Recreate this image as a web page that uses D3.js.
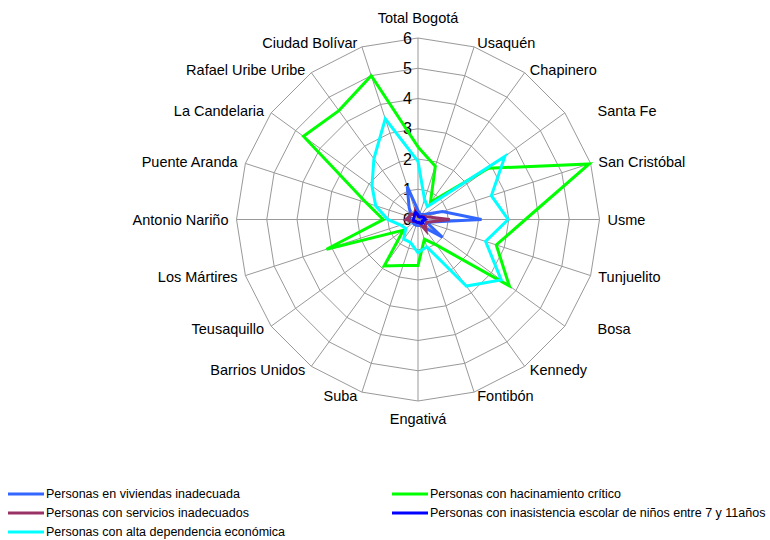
<!DOCTYPE html>
<html>
<head>
<meta charset="utf-8">
<script src="https://cdn.jsdelivr.net/npm/d3@7"></script>
<style>
  html, body { margin: 0; padding: 0; background: #fff; }
  svg { display: block; font-family: "Liberation Sans", Arial, sans-serif; }
</style>
</head>
<body>
<svg id="chart" width="770" height="540"></svg>
<script>
// Localidades de Bogotá, clockwise from the top spoke
const categories = [
  "Total Bogotá", "Usaquén", "Chapinero", "Santa Fe", "San Cristóbal",
  "Usme", "Tunjuelito", "Bosa", "Kennedy", "Fontibón",
  "Engativá", "Suba", "Barrios Unidos", "Teusaquillo", "Los Mártires",
  "Antonio Nariño", "Puente Aranda", "La Candelaria", "Rafael Uribe Uribe", "Ciudad Bolívar"
];

const viviendasInadecuadas = [0.3, 0.2, 0.2, 0.3, 0.85, 2.1, 0.3, 1.0, 0.3, 0.2, 0.2, 0.2, 0.2, 0.2, 0.2, 0.3, 0.3, 0.3, 0.5, 1.15];
const hacinamientoCritico  = [2.4, 1.85, 0.7, 2.88, 5.95, 3.55, 2.72, 3.73, 1.05, 0.68, 1.52, 1.6, 1.9, 0.6, 3.18, 1.15, 1.8, 4.68, 4.45, 5.0];
const serviciosInadecuados = [0.1, 0.1, 0.1, 0.2, 0.3, 1.05, 0.3, 0.3, 0.45, 0.1, 0.1, 0.1, 0.1, 0.1, 0.2, 0.4, 0.3, 0.3, 0.2, 0.3];
const inasistenciaEscolar  = [0.15, 0.1, 0.1, 0.15, 0.2, 0.25, 0.15, 0.2, 0.15, 0.1, 0.1, 0.1, 0.1, 0.1, 0.15, 0.15, 0.15, 0.15, 0.2, 0.25];
const altaDependencia      = [1.92, 0.7, 0.53, 3.55, 2.55, 2.98, 2.35, 3.4, 2.72, 0.95, 1.1, 0.8, 0.8, 0.5, 0.6, 1.0, 1.47, 1.88, 2.48, 3.5];

const tickValues = [0, 1, 2, 3, 4, 5, 6];

// drawing order; later series sit on top
const series = [
  { name: "Personas en viviendas inadecuada", values: viviendasInadecuadas, color: "#3366ff" },
  { name: "Personas con hacinamiento crítico", values: hacinamientoCritico, color: "#00ff00" },
  { name: "Personas con servicios inadecuados", values: serviciosInadecuados, color: "#993366" },
  { name: "Personas con inasistencia escolar de niños entre 7 y 11años", values: inasistenciaEscolar, color: "#0000ff" },
  { name: "Personas con alta dependencia económica", values: altaDependencia, color: "#00ffff" }
];

const svg = d3.select("#chart");
const cx = 418, cy = 219.5, R = 181.5;

const r = d3.scaleLinear().domain([0, 6]).range([0, R]);
const step = 2 * Math.PI / categories.length;
const ang = (i) => i * step;
const px = (i, v) => cx + r(v) * Math.sin(ang(i));
const py = (i, v) => cy - r(v) * Math.cos(ang(i));

const g = svg.append("g");

// polygonal grid rings
tickValues.filter(t => t > 0).forEach(t => {
  g.append("path")
    .attr("d", d3.line()(categories.map((c, i) => [px(i, t), py(i, t)])) + "Z")
    .attr("fill", "none")
    .attr("stroke", "#999")
    .attr("stroke-width", 1);
});

// spokes
categories.forEach((c, i) => {
  g.append("line")
    .attr("x1", cx).attr("y1", cy)
    .attr("x2", px(i, 6)).attr("y2", py(i, 6))
    .attr("stroke", "#999")
    .attr("stroke-width", 1);
});

// value axis labels along the top spoke
g.selectAll("text.tick")
  .data(tickValues)
  .join("text")
  .attr("class", "tick")
  .attr("x", cx - 6)
  .attr("y", d => cy - r(d))
  .attr("dy", "0.35em")
  .attr("text-anchor", "end")
  .attr("font-size", 16)
  .attr("fill", "#000")
  .text(d => d);

// category labels: centred above/below the vertical spokes,
// otherwise beside the outer ring; the right-hand side labels near
// the horizontal share one column
const sideColumn = cx + R * Math.sin(4 * step) + 7;
categories.forEach((c, i) => {
  const a = ang(i);
  const s = Math.sin(a), co = Math.cos(a);
  const x0 = px(i, 6), y0 = py(i, 6);
  const t = g.append("text")
    .attr("font-size", 14.5)
    .attr("fill", "#000")
    .text(c);
  if (Math.abs(s) < 0.1) {
    t.attr("x", x0)
      .attr("y", co > 0 ? y0 - 15.5 : y0 + 23)
      .attr("text-anchor", "middle");
  } else if (s > 0) {
    let lx = x0 + 1 + 7 * s;
    if (s > 0.75) lx = Math.max(lx, sideColumn);
    t.attr("x", lx)
      .attr("y", y0 - 4 * co)
      .attr("dy", "0.35em")
      .attr("text-anchor", "start");
  } else {
    t.attr("x", x0 - 3 + 5 * s)
      .attr("y", y0 - 4 * co)
      .attr("dy", "0.35em")
      .attr("text-anchor", "end");
  }
});

// series outlines
const radial = d3.lineRadial()
  .angle((d, i) => ang(i))
  .radius(d => r(d))
  .curve(d3.curveLinearClosed);

series.forEach(s => {
  g.append("path")
    .attr("transform", `translate(${cx},${cy})`)
    .attr("d", radial(s.values))
    .attr("fill", "none")
    .attr("stroke", s.color)
    .attr("stroke-width", 3)
    .attr("stroke-linejoin", "miter");
});

// legend in two columns, filled row by row
const legend = svg.append("g").attr("font-size", 12.5);
series.forEach((s, k) => {
  const col = k % 2, row = Math.floor(k / 2);
  const x0 = col === 0 ? 8 : 392;
  const y0 = 494 + row * 19;
  legend.append("line")
    .attr("x1", x0).attr("x2", x0 + 36)
    .attr("y1", y0).attr("y2", y0)
    .attr("stroke", s.color)
    .attr("stroke-width", 3);
  legend.append("text")
    .attr("x", x0 + 38)
    .attr("y", y0)
    .attr("dy", "0.35em")
    .attr("fill", "#000")
    .text(s.name);
});
</script>
</body>
</html>
